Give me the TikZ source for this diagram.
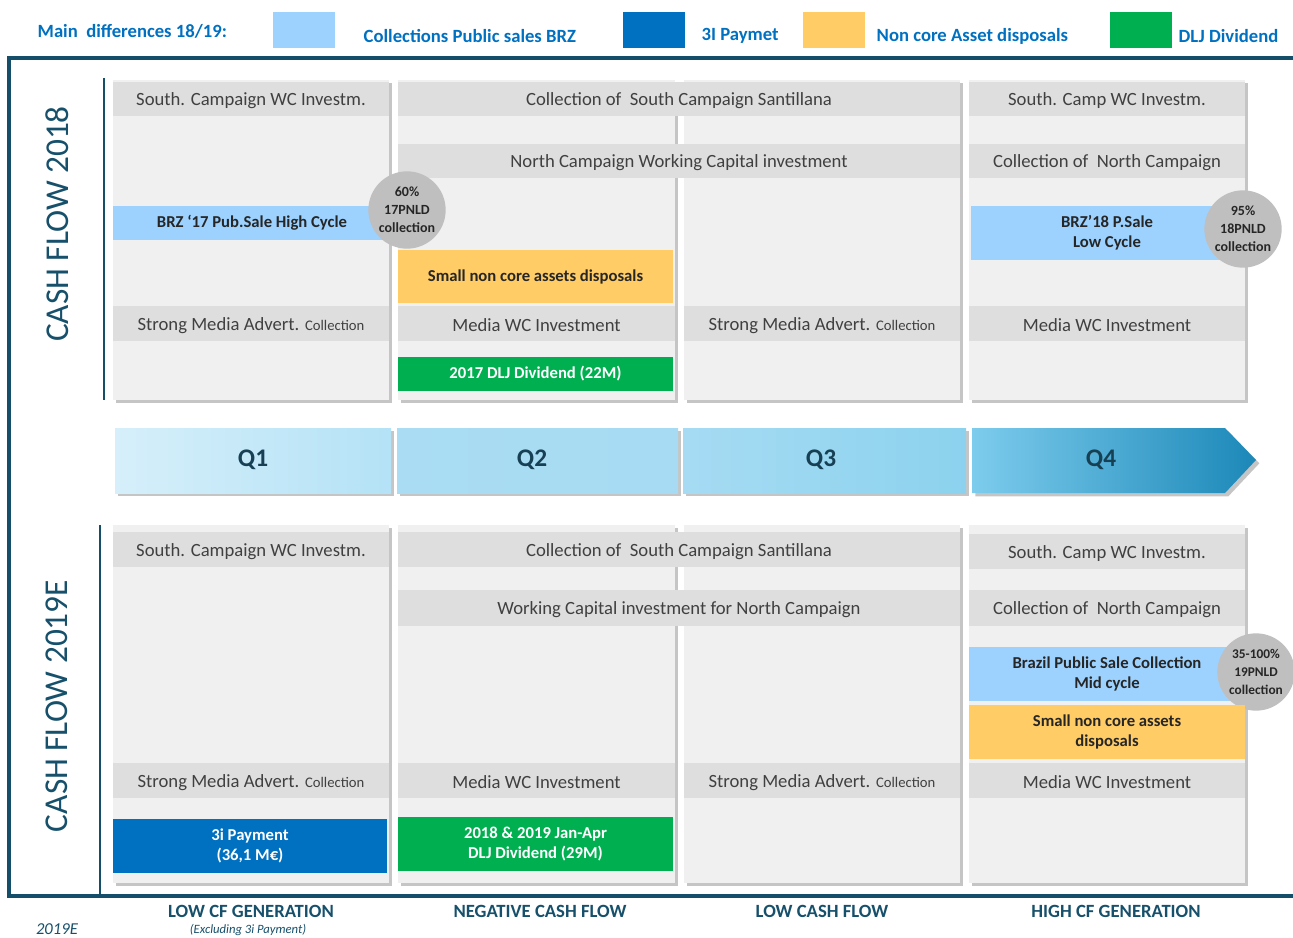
\documentclass[tikz,border=0pt]{standalone}
\usepackage{fontspec}
\setmainfont{Carlito}
\usetikzlibrary{fit,shadows}
\definecolor{framecol}{RGB}{20,78,104}
\definecolor{legendblue}{RGB}{0,112,192}
\definecolor{lblue}{RGB}{157,210,255}
\definecolor{dblue}{RGB}{0,112,192}
\definecolor{orng}{RGB}{255,204,102}
\definecolor{grn}{RGB}{0,176,80}
\definecolor{panelc}{RGB}{240,240,240}
\definecolor{barc}{RGB}{222,222,222}
\definecolor{circc}{RGB}{191,191,191}
\definecolor{bartext}{RGB}{64,64,64}
\definecolor{qtext}{RGB}{23,64,84}
\definecolor{labtext}{RGB}{23,80,107}
\definecolor{qa}{RGB}{214,239,250}
\definecolor{qb}{RGB}{180,226,246}
\definecolor{qc}{RGB}{170,221,243}
\definecolor{qd}{RGB}{166,219,243}
\definecolor{qe}{RGB}{140,210,238}
\definecolor{qf}{RGB}{125,204,237}
\definecolor{qg}{RGB}{28,136,184}
% #1 style, #2 name, #3 #4 corners, #5 text
\newcommand\mkbox[5]{\node[#1, fit={#3 #4}] (#2) {};
  \node[#1txt] (#2t) at (#2.center) {#5};}
\newcommand\smallcoll{{\fontsize{11}{12}\selectfont Collection}}
\begin{document}
\begin{tikzpicture}[x=0.75pt,y=-0.75pt,
  myshadow/.style={drop shadow={shadow xshift=2.5pt, shadow yshift=-2.5pt, fill=black!45, opacity=0.5}},
  panel/.style={fill=panelc, inner sep=0pt, draw=none, myshadow},
  bar/.style={fill=barc, inner sep=0pt},
  bartxt/.style={text=bartext, inner sep=0pt, yshift=-1.5pt, font=\fontsize{14}{16}\selectfont},
  cboxtxt/.style={inner sep=0pt, align=center, font=\bfseries\fontsize{12.5}{15}\selectfont},
  lbbox/.style={fill=lblue, inner sep=0pt},
  lbboxtxt/.style={cboxtxt, text=black!85},
  orbox/.style={fill=orng, inner sep=0pt},
  orboxtxt/.style={cboxtxt, text=black!85},
  gnbox/.style={fill=grn, inner sep=0pt},
  gnboxtxt/.style={cboxtxt, text=white},
  dbbox/.style={fill=dblue, inner sep=0pt},
  dbboxtxt/.style={cboxtxt, text=white},
  circ/.style={circle, fill=circc, minimum size=58pt, inner sep=0pt, align=center, text=black!85, font=\bfseries\fontsize{10.5}{13.5}\selectfont},
  swatch/.style={inner sep=0pt},
  legtext/.style={text=legendblue, anchor=west, font=\bfseries\fontsize{14}{16}\selectfont},
  qlab/.style={text=qtext, font=\bfseries\fontsize{19}{22}\selectfont},
  foot/.style={text=labtext, font=\bfseries\fontsize{14}{16}\selectfont},
  vtitle/.style={rotate=90, text=labtext, font=\fontsize{25}{30}\selectfont},
  frameline/.style={draw=framecol, line width=2.4pt},
  vline/.style={draw=framecol, line width=1.6pt}
]
\useasboundingbox (0,0) rectangle (1293,938);

% legend
\node[legtext] (lgt) at (33,31) {Main\ \ differences 18/19:};
\node[swatch, fill=lblue, fit={(273,12) (335,48)}] (sw1) {};
\node[legtext] (lg1) at (359,36) {Collections Public sales BRZ};
\node[swatch, fill=dblue, fit={(623,12) (685,48)}] (sw2) {};
\node[legtext] (lg2) at (697,36) {3I Paymet};
\node[swatch, fill=orng, fit={(803,12) (865,48)}] (sw3) {};
\node[legtext] (lg3) at (872,36) {Non core Asset disposals};
\node[swatch, fill=grn, fit={(1110,12) (1172,48)}] (sw4) {};
\node[legtext] (lg4) at (1174,36) {DLJ Dividend};

% frame
\draw[frameline] (1293,58) -- (9,58) -- (9,896) -- (1293,896);
\draw[vline] (104,78) -- (104,400);
\draw[vline] (100,525) -- (100,895);
\node[vtitle] (t18) at (57,224) {CASH FLOW 2018};
\node[vtitle] (t19) at (57,706) {CASH FLOW 2019E};

% ---------- 2018 panels
\node[panel, fit={(113,80) (389,400)}] (p11) {};
\node[panel, fit={(398,80) (675,400)}] (p12) {};
\node[panel, fit={(684,80) (960,400)}] (p13) {};
\node[panel, fit={(969,80) (1245,400)}] (p14) {};

\mkbox{bar}{a1}{(113,82)}{(389,116)}{South. Campaign WC Investm.}
\mkbox{bar}{a2}{(398,82)}{(960,116)}{Collection of\ \ South Campaign Santillana}
\mkbox{bar}{a4}{(969,82)}{(1245,116)}{South. Camp WC Investm.}
\mkbox{bar}{b2}{(398,144)}{(960,178)}{North Campaign Working Capital investment}
\mkbox{bar}{b4}{(969,144)}{(1245,178)}{Collection of\ \ North Campaign}
\node[lbbox, fit={(113,206) (392,240)}] (c1) {};
\node[lbboxtxt] (c1t) at (252,223) {BRZ \textquoteleft17 Pub.Sale High Cycle};
\node[circ] (k1) at (407,210) {60\%\\17PNLD\\collection};
\mkbox{orbox}{d2}{(398,250)}{(673,303)}{Small non core assets disposals}
\node[lbbox, fit={(971,206) (1238,260)}] (c4) {};
\node[lbboxtxt] (c4t) at (1107,233) {BRZ\textquoteright18 P.Sale\\Low Cycle};
\node[circ] (k4) at (1243,229) {95\%\\18PNLD\\collection};
\mkbox{bar}{e1}{(113,306)}{(389,341)}{Strong Media Advert. \smallcoll}
\mkbox{bar}{e2}{(398,306)}{(675,341)}{Media WC Investment}
\mkbox{bar}{e3}{(684,306)}{(960,341)}{Strong Media Advert. \smallcoll}
\mkbox{bar}{e4}{(969,306)}{(1245,341)}{Media WC Investment}
\mkbox{gnbox}{f2}{(398,357)}{(673,391)}{2017 DLJ Dividend (22M)}

% ---------- quarter arrow
\shade[myshadow, left color=qa, right color=qb] (115,428) rectangle (391,493);
\shade[myshadow, left color=qc, right color=qd] (397,428) rectangle (678,493);
\shade[myshadow, left color=qd, right color=qe] (683,428) rectangle (966,493);
\shade[myshadow, left color=qf, right color=qg] (972,428) -- (1225,428) -- (1256,460) -- (1225,493) -- (972,493) -- cycle;
\node[qlab] (q1) at (253,460) {Q1};
\node[qlab] (q2) at (532,460) {Q2};
\node[qlab] (q3) at (821,460) {Q3};
\node[qlab] (q4) at (1101,460) {Q4};

% ---------- 2019 panels
\node[panel, fit={(113,525) (389,883)}] (p21) {};
\node[panel, fit={(398,525) (675,883)}] (p22) {};
\node[panel, fit={(684,525) (960,883)}] (p23) {};
\node[panel, fit={(969,525) (1245,883)}] (p24) {};

\mkbox{bar}{g1}{(113,532)}{(389,567)}{South. Campaign WC Investm.}
\mkbox{bar}{g2}{(398,532)}{(960,567)}{Collection of\ \ South Campaign Santillana}
\mkbox{bar}{g4}{(969,534)}{(1245,569)}{South. Camp WC Investm.}
\mkbox{bar}{h2}{(398,590)}{(960,626)}{Working Capital investment for North Campaign}
\mkbox{bar}{h4}{(969,590)}{(1245,626)}{Collection of\ \ North Campaign}
\node[lbbox, fit={(969,647) (1240,701)}] (i4) {};
\node[lbboxtxt] (i4t) at (1107,674) {Brazil Public Sale Collection\\Mid cycle};
\node[circ, font=\bfseries\fontsize{10}{13.5}\selectfont] (k5) at (1256,672) {35-100\%\\19PNLD\\collection};
\mkbox{orbox}{j4}{(969,705)}{(1245,759)}{Small non core assets\\disposals}
\mkbox{bar}{m1}{(113,763)}{(389,798)}{Strong Media Advert. \smallcoll}
\mkbox{bar}{m2}{(398,763)}{(675,798)}{Media WC Investment}
\mkbox{bar}{m3}{(684,763)}{(960,798)}{Strong Media Advert. \smallcoll}
\mkbox{bar}{m4}{(969,763)}{(1245,798)}{Media WC Investment}
\mkbox{dbbox}{n1}{(113,819)}{(387,873)}{3i Payment\\(36,1 M€)}
\mkbox{gnbox}{n2}{(398,817)}{(673,871)}{2018 \& 2019 Jan-Apr\\DLJ Dividend (29M)}

% ---------- footer
\node[foot] (f1) at (251,911) {LOW CF GENERATION};
\node[text=labtext, font=\itshape\fontsize{9.5}{11}\selectfont] (f1b) at (248,930) {(Excluding 3i Payment)};
\node[foot] (f2l) at (540,911) {NEGATIVE CASH FLOW};
\node[foot] (f3) at (822,911) {LOW CASH FLOW};
\node[foot] (f4) at (1116,911) {HIGH CF GENERATION};
\node[text=labtext, inner sep=0pt, font=\itshape\fontsize{12.5}{14}\selectfont] (yr) at (57,929) {2019E};
\end{tikzpicture}
\end{document}
